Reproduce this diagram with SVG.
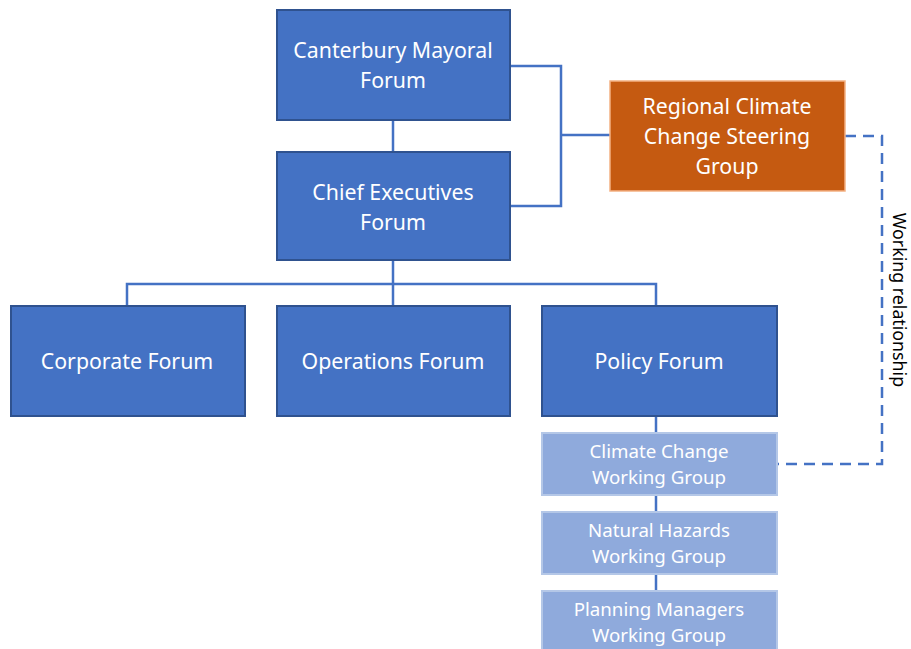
<svg xmlns="http://www.w3.org/2000/svg" width="911" height="649" viewBox="0 0 911 649">
<style>
.main{fill:#4472C4;stroke:#2F528F;stroke-width:2}
.orange{fill:#C55A11;stroke:#F4B183;stroke-width:1.5}
.light{fill:#8FAADC;stroke:#B4C7E7;stroke-width:2}
.t{font-family:"Noto Sans","Open Sans","DejaVu Sans",sans-serif;font-size:21.3px;fill:#fff;text-anchor:middle;dominant-baseline:central}
.ts{font-family:"Noto Sans","Open Sans","DejaVu Sans",sans-serif;font-size:18.7px;fill:#fff;text-anchor:middle;dominant-baseline:central}
.lbl{font-family:"Noto Sans","Open Sans","DejaVu Sans",sans-serif;font-size:17.8px;fill:#000;text-anchor:middle;dominant-baseline:central}
.c{fill:none;stroke:#4472C4;stroke-width:2.5}
.d{fill:none;stroke:#4472C4;stroke-width:2.5;stroke-dasharray:11,7}
</style>
<g id="connectors">
<path class="c" d="M393,120 V152"/>
<path class="c" d="M510,66 H561 V206 H510"/>
<path class="c" d="M561,135 H610"/>
<path class="c" d="M393,260 V306"/>
<path class="c" d="M127,306 V284 H656 V306"/>
<path class="c" d="M656,416 V433"/>
<path class="c" d="M656,495 V512"/>
<path class="c" d="M656,574 V591"/>
<path class="d" d="M845,136 H882 V464 H777"/>
<text class="lbl" transform="translate(900,300) rotate(90)">Working relationship</text>
</g>
<g id="mayoral">
<rect class="main" x="277" y="10" width="233" height="110"/>
<text class="t" x="393" y="49">Canterbury Mayoral</text>
<text class="t" x="393" y="79">Forum</text>
</g>
<g id="chief">
<rect class="main" x="277" y="152" width="233" height="108"/>
<text class="t" x="393" y="191">Chief Executives</text>
<text class="t" x="393" y="221">Forum</text>
</g>
<g id="regional">
<rect class="orange" x="610" y="81" width="235" height="110"/>
<text class="t" x="727" y="105">Regional Climate</text>
<text class="t" x="727" y="135">Change Steering</text>
<text class="t" x="727" y="165">Group</text>
</g>
<g id="corporate">
<rect class="main" x="11" y="306" width="234" height="110"/>
<text class="t" x="127" y="360">Corporate Forum</text>
</g>
<g id="operations">
<rect class="main" x="277" y="306" width="233" height="110"/>
<text class="t" x="393" y="360">Operations Forum</text>
</g>
<g id="policy">
<rect class="main" x="542" y="306" width="235" height="110"/>
<text class="t" x="659" y="360">Policy Forum</text>
</g>
<g id="ccwg">
<rect class="light" x="542" y="433" width="235" height="62"/>
<text class="ts" x="659" y="450">Climate Change</text>
<text class="ts" x="659" y="476">Working Group</text>
</g>
<g id="nhwg">
<rect class="light" x="542" y="512" width="235" height="62"/>
<text class="ts" x="659" y="529">Natural Hazards</text>
<text class="ts" x="659" y="555">Working Group</text>
</g>
<g id="pmwg">
<rect class="light" x="542" y="591" width="235" height="70"/>
<text class="ts" x="659" y="608">Planning Managers</text>
<text class="ts" x="659" y="634">Working Group</text>
</g>
</svg>
